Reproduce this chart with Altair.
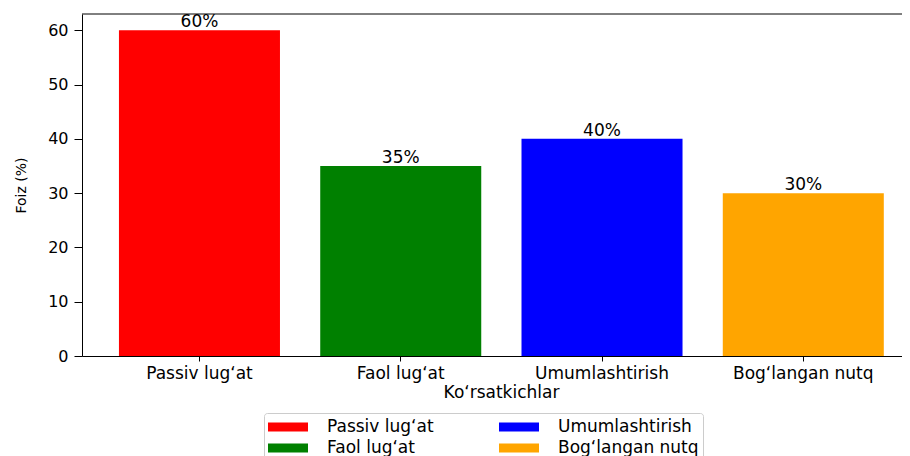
import altair as alt
import pandas as pd

categories = ["Passiv lug‘at", "Faol lug‘at", "Umumlashtirish", "Bog‘langan nutq"]
values = [60, 35, 40, 30]
labels = ["60%", "35%", "40%", "30%"]
colors = ["#ff0000", "#008000", "#0000ff", "#ffa500"]
y_ticks = [0, 10, 20, 30, 40, 50, 60]

df = pd.DataFrame({"cat": categories, "val": values, "label": labels})

W = 820
H = 342
FONT = "DejaVu Sans"

x_enc = alt.X(
    "cat:N",
    sort=categories,
    scale=alt.Scale(paddingInner=0.2, paddingOuter=0.137, align=0.67),
    axis=alt.Axis(
        title="Ko‘rsatkichlar",
        labelAngle=0,
        labelFontSize=17,
        tickSize=5,
        labelPadding=4,
        titleFontSize=17,
        titleX=419,
        titleY=41,
        titleBaseline="alphabetic",
        titleAlign="center",
    ),
)
y_enc = alt.Y(
    "val:Q",
    scale=alt.Scale(domain=[0, 63], nice=False, zero=True),
    axis=alt.Axis(
        title="Foiz (%)",
        values=y_ticks,
        tickSize=8,
        labelPadding=6,
        labelFontSize=16,
        titleFontSize=14,
        titleX=-61,
        titleY=171,
        titleAngle=270,
        titleBaseline="middle",
        titleAlign="center",
    ),
)

bars = alt.Chart(df).mark_bar().encode(
    x=x_enc,
    y=y_enc,
    color=alt.Color(
        "cat:N",
        scale=alt.Scale(domain=categories, range=colors),
        legend=alt.Legend(
            title=None,
            orient="none",
            legendX=182,
            legendY=399,
            columns=2,
            symbolType="M-1,-0.225L1,-0.225L1,0.225L-1,0.225Z",
            symbolSize=1600,
            symbolStrokeWidth=0,
            clipHeight=20,
            labelFontSize=17,
            labelFont=FONT,
            labelColor="black",
            labelOffset=19,
            columnPadding=65,
            rowPadding=1,
            padding=4,
            strokeColor="#cccccc",
            cornerRadius=3,
            fillColor="white",
        ),
    ),
)

text = alt.Chart(df).mark_text(
    baseline="alphabetic", dy=-3, fontSize=17, color="black", font=FONT
).encode(x=x_enc, y=y_enc, text="label:N")

top_line = alt.Chart(pd.DataFrame({"a": [0]})).mark_rule(
    color="black", strokeWidth=1
).encode(x=alt.value(0), x2=alt.value(W), y=alt.value(0))

chart = (
    alt.layer(bars, text, top_line)
    .properties(
        width=W,
        height=H,
        autosize=alt.AutoSizeParams(type="none"),
        padding={"left": 74, "top": 6, "right": 0, "bottom": 100},
    )
    .configure(font=FONT)
    .configure_view(stroke=None)
    .configure_axis(
        domainColor="black",
        tickColor="black",
        labelColor="black",
        titleColor="black",
        titleFontWeight="normal",
        grid=False,
        labelFont=FONT,
        titleFont=FONT,
    )
)

chart.save("out.html", embed_options={"renderer": "svg", "actions": False})
